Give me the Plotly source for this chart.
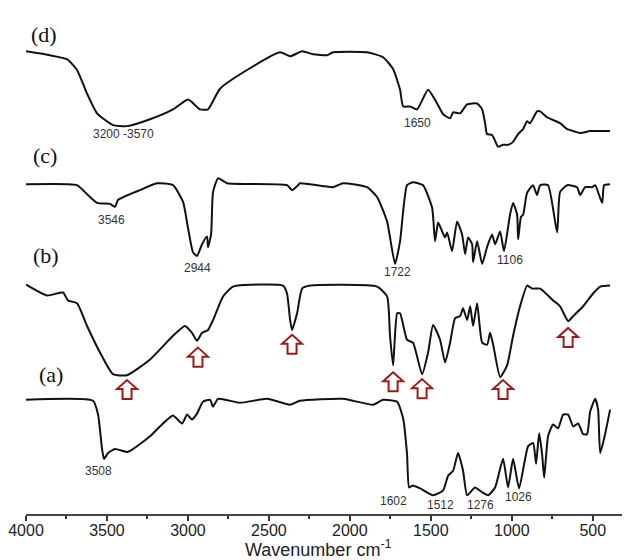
import plotly.graph_objects as go

# ---- data (wavenumber, cm-1) and relative transmittance (a.u., 0 = baseline) ----
d_wn = [4000, 3852, 3747, 3685, 3623, 3561, 3463, 3376, 3234, 3092, 2999, 2925, 2876, 2802, 2635, 2431,
        2369, 2295, 2227, 2141, 2104, 1894, 1795, 1733, 1690, 1671, 1628, 1585, 1517, 1461, 1424, 1381,
        1362, 1319, 1276, 1214, 1183, 1165, 1153, 1122, 1103, 1085, 1054, 1023, 992, 961, 930, 906, 887,
        844, 825, 782, 702, 658, 640, 578, 516, 393]
d_t = [1, -3, -7, -18, -42, -62, -74, -75, -68, -58, -48, -58, -58, -37, -18, 0,
       -4, 1, -2, -3, 0, 0, -5, -17, -38, -55, -55, -58, -38, -52, -63, -67,
       -61, -62, -53, -52, -58, -72, -83, -84, -90, -96, -94, -94, -91, -83, -78, -70, -72,
       -60, -60, -66, -72, -78, -79, -82, -80, -80]

c_wn = [4000, 3747, 3685, 3561, 3481, 3450, 3432, 3296, 3191, 3092,
        3030, 3000, 2969, 2944, 2913, 2882, 2876, 2857, 2845, 2814,
        2758, 2388, 2357, 2320, 2308, 2104, 2042, 1894, 1832, 1770,
        1721, 1690, 1647, 1610, 1548, 1492, 1474, 1455, 1430, 1412,
        1399, 1369, 1338, 1307, 1288, 1270, 1245, 1239, 1214, 1183,
        1153, 1122, 1103, 1072, 1048, 1011, 992, 967, 961, 943,
        930, 906, 869, 844, 825, 776, 720, 702, 658, 597,
        578, 547, 504, 485, 442, 430, 393]
c_px = [179, 179, 180, 198, 199, 202, 195, 185, 178, 180,
        197, 223, 248, 252, 240, 232, 243, 230, 187, 173,
        178, 180, 185, 180, 178, 182, 178, 182, 192, 217,
        260, 237, 180, 177, 180, 203, 237, 218, 227, 233,
        228, 247, 217, 230, 250, 233, 240, 258, 237, 260,
        243, 230, 240, 227, 247, 210, 198, 210, 235, 212,
        210, 188, 180, 190, 180, 180, 228, 187, 180, 182,
        190, 182, 182, 180, 198, 180, 179]
c_t = [179 - v for v in c_px]

b_wn = [4000, 3870, 3771, 3741, 3685, 3623, 3543, 3463, 3376, 3234, 3092, 3018, 2975, 2944, 2913,
        2876, 2845, 2783, 2721, 2413, 2388, 2369, 2357, 2326, 2295, 2246, 1832, 1770, 1752, 1733,
        1708, 1690, 1647, 1610, 1554, 1517, 1486, 1443, 1412, 1381, 1350, 1319, 1301, 1276, 1257,
        1239, 1214, 1183, 1152, 1134, 1115, 1072, 1029, 992, 949, 905, 874, 825, 745, 702,
        652, 621, 559, 498, 454, 393]
b_px = [281, 292, 289, 297, 300, 323, 350, 372, 373, 357, 333, 323, 330, 338, 330,
        327, 317, 293, 283, 282, 290, 317, 327, 310, 285, 282, 283, 293, 333, 363,
        310, 310, 337, 340, 372, 350, 322, 337, 360, 340, 315, 313, 305, 317, 303,
        323, 300, 340, 342, 330, 342, 375, 363, 333, 303, 282, 285, 285, 297, 303,
        318, 313, 303, 290, 283, 282]
b_t = [282 - v for v in b_px]

a_wn = [4000, 3586, 3555, 3531, 3518, 3493, 3450, 3376, 3339, 3234, 3154, 3092, 3036, 3005, 2975,
        2944, 2907, 2863, 2845, 2814, 2678, 2511, 2369, 2308, 2042, 1857, 1795, 1708, 1671, 1647,
        1634, 1610, 1566, 1486, 1424, 1393, 1362, 1332, 1301, 1276, 1227, 1183, 1146, 1103, 1054,
        1023, 992, 955, 899, 868, 850, 831, 813, 800, 776, 745, 714, 683, 652, 621,
        590, 559, 535, 516, 485, 467, 454, 424, 393]
a_px = [398, 399, 413, 447, 458, 452, 448, 451, 448, 435, 422, 414, 422, 413, 418,
        412, 400, 398, 405, 397, 401, 397, 403, 399, 397, 403, 398, 400, 417, 453,
        487, 485, 488, 495, 490, 475, 470, 452, 470, 495, 487, 492, 495, 487, 458,
        487, 458, 488, 445, 442, 463, 432, 453, 477, 435, 423, 427, 413, 413, 425,
        422, 433, 433, 410, 397, 408, 452, 433, 408]
a_t = [398 - v for v in a_px]

series = [("(d)", d_wn, d_t, 469), ("(c)", c_wn, c_t, 335), ("(b)", b_wn, b_t, 232), ("(a)", a_wn, a_t, 116)]

# panel labels: (text, wavenumber, y)
panel_labels = [("(d)", 3890, 487), ("(c)", 3880, 364), ("(b)", 3875, 263), ("(a)", 3845, 142)]

# peak labels: (text, wavenumber, y)
peak_labels = [("3200 -3570", 3401, 386), ("1650", 1585, 397), ("3546", 3469, 299), ("2944", 2944, 250),
               ("1722", 1708, 246), ("1106", 1010, 258), ("3508", 3555, 44), ("1602", 1733, 13),
               ("1512", 1443, 9), ("1276", 1196, 9), ("1026", 961, 17)]

# arrow tips for spectrum (b): (wavenumber, y)
arrow_wn = [3376, 2938, 2357, 1733, 1554, 1054, 652]
arrow_y = [136, 169, 182, 144, 137, 136, 189]

tick_vals = [4000, 3500, 3000, 2500, 2000, 1500, 1000, 500]
x_title = "Wavenumber cm<sup>-1</sup>"

fig = go.Figure()
for name, wn, t, off in series:
    fig.add_trace(go.Scatter(x=wn, y=[off + v for v in t], mode="lines",
                             line=dict(color="#111111", width=2, shape="spline", smoothing=0.5),
                             name=name, showlegend=False, hoverinfo="skip"))

annotations = []
for txt, x, y in panel_labels:
    annotations.append(dict(x=x, y=y, text=txt, showarrow=False, xref="x", yref="y",
                            font=dict(family="Liberation Serif", size=22, color="#111111")))
for txt, x, y in peak_labels:
    annotations.append(dict(x=x, y=y, text=txt, showarrow=False, xref="x", yref="y",
                            font=dict(family="Arial, Liberation Sans", size=12, color="#333333")))
annotations.append(dict(x=2196, y=0, xref="x", yref="paper", yanchor="middle", yshift=-34,
                        text=x_title, showarrow=False,
                        font=dict(family="Arial, Liberation Sans", size=18, color="#222222")))

arrow_path = "M 0 0 L 10 -9 L 4.5 -9 L 4.5 -19 L -4.5 -19 L -4.5 -9 L -10 -9 Z"
shapes = []
for x, y in zip(arrow_wn, arrow_y):
    shapes.append(dict(type="path", xref="x", yref="y", xsizemode="pixel", ysizemode="pixel",
                       xanchor=x, yanchor=y, path=arrow_path,
                       line=dict(color="#9b1b1b", width=2), fillcolor="rgba(0,0,0,0)"))

# page body adds an 8 px margin; figure is sized so the plot lands where the reference has it
fig.update_layout(
    width=622, height=552,
    margin=dict(l=18, r=0, t=0, b=46),
    paper_bgcolor="white", plot_bgcolor="white",
    annotations=annotations, shapes=shapes,
    xaxis=dict(range=[4000, 270], tickvals=tick_vals, ticks="outside", ticklen=5, tickwidth=1.5,
               tickcolor="#333333", showline=True, linecolor="#444444", linewidth=1.5,
               showgrid=False, zeroline=False, ticklabelstandoff=-4,
               minor=dict(dtick=250, tick0=0, ticks="outside", ticklen=3, tickwidth=1.5, tickcolor="#333333"),
               tickfont=dict(family="Arial, Liberation Sans", size=16, color="#222222")),
    yaxis=dict(range=[0, 514], visible=False, showgrid=False, zeroline=False),
)

fig.write_html("out.html")
